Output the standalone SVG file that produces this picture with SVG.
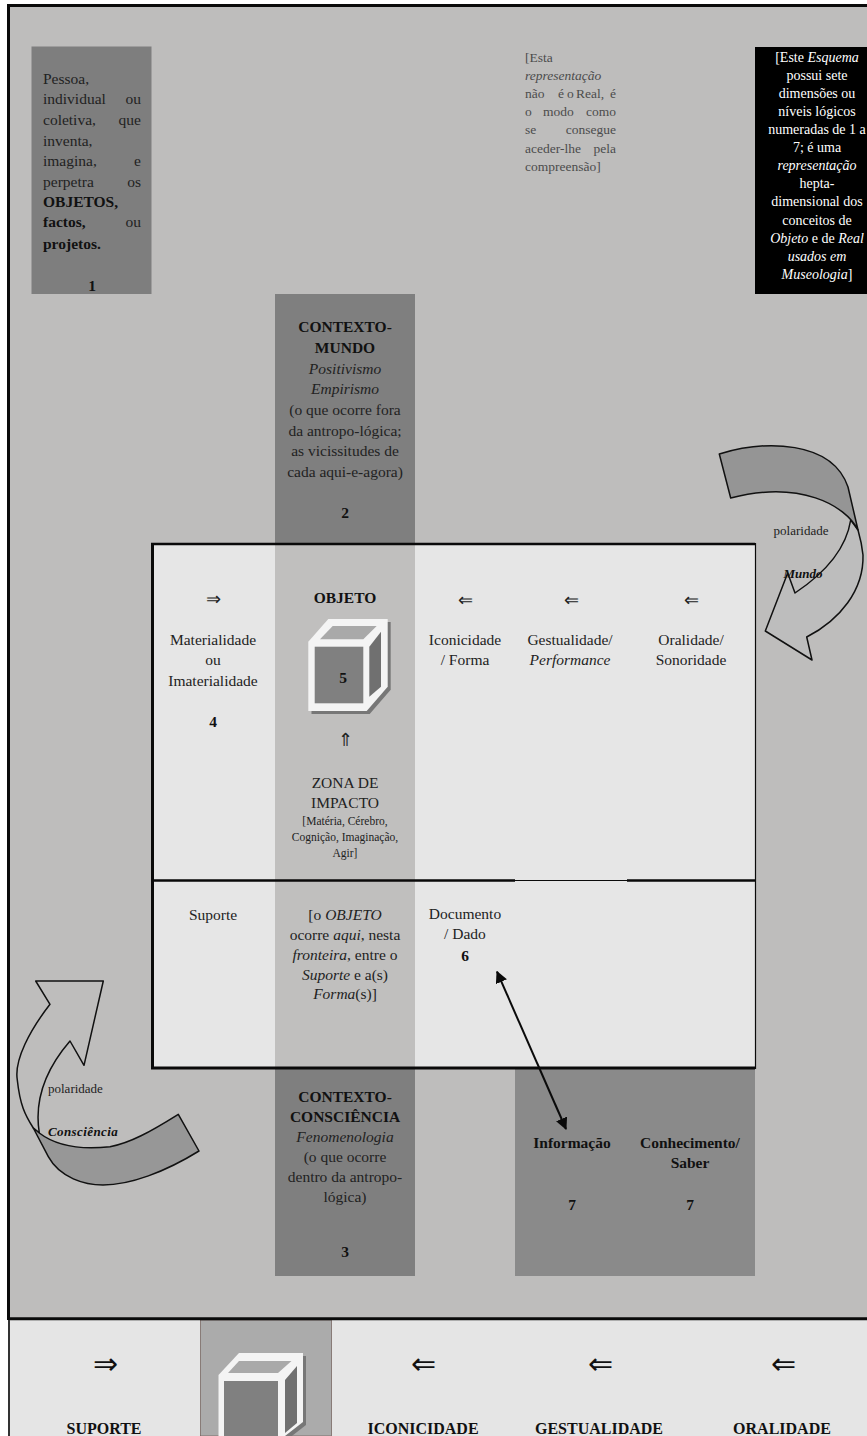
<svg xmlns="http://www.w3.org/2000/svg" width="867" height="1436" viewBox="0 0 867 1436">
<defs>
<style>
text{font-family:"Liberation Serif","Times New Roman",serif;font-size:15.5px;fill:#222}
.m{text-anchor:middle}.e{text-anchor:end}.b{font-weight:bold;fill:#111}.i{font-style:italic}
.s{font-size:11.5px}.g{font-size:13.5px;fill:#4c4c4c}.w{font-size:14px;fill:#fff;text-anchor:middle}
.a{font-size:18px;text-anchor:middle;fill:#222}
.A{font-size:30px;text-anchor:middle;fill:#111}
.c{stroke:#111;stroke-width:1.5;stroke-linejoin:round}
.l{stroke:#0a0a0a;fill:none}
</style>
<marker id="ah" viewBox="0 0 12 12" refX="11" refY="6" markerWidth="12" markerHeight="12" markerUnits="userSpaceOnUse" orient="auto-start-reverse"><path d="M0 0L12 6L0 12Z" fill="#0a0a0a"/></marker>
</defs>
<rect width="867" height="1436" fill="#fff"/>
<rect x="8" y="5" width="859" height="1315" fill="#bebdbc"/>
<path d="M8.5 1320V5.500H867" class="l" stroke-width="3"/>

<g id="n1"><rect x="31.500" y="46.500" width="120" height="247.500" fill="#7e7e7e"/>
<text x="43" y="84">Pessoa,</text>
<text x="43" y="104">individual</text><text x="141" y="104" class="e">ou</text>
<text x="43" y="125">coletiva,</text><text x="141" y="125" class="e">que</text>
<text x="43" y="146">inventa,</text>
<text x="43" y="166">imagina,</text><text x="141" y="166" class="e">e</text>
<text x="43" y="187">perpetra</text><text x="141" y="187" class="e">os</text>
<text x="43" y="207" class="b">OBJETOS,</text>
<text x="43" y="227" class="b">factos,</text><text x="141" y="227" class="e">ou</text>
<text x="43" y="249" class="b">projetos.</text>
<text x="92" y="291" class="m b">1</text></g>

<g id="n-repr">
<text x="525" y="62" class="g">[Esta</text>
<text x="525" y="80" class="g i">representação</text>
<text x="525" y="98" class="g">não</text><text x="558" y="98" class="g">é</text><text x="567" y="98" class="g">o</text><text x="576" y="98" class="g">Real,</text><text x="616" y="98" class="g e">é</text>
<text x="525" y="116" class="g">o</text><text x="543" y="116" class="g">modo</text><text x="616" y="116" class="g e">como</text>
<text x="525" y="134" class="g">se</text><text x="616" y="134" class="g e">consegue</text>
<text x="525" y="153" class="g">aceder-lhe</text><text x="616" y="153" class="g e">pela</text>
<text x="525" y="171" class="g">compreensão]</text></g>

<g id="n-black"><rect x="755" y="47" width="112" height="247" fill="#000"/>
<text x="817" y="62" class="w">[Este <tspan class="i">Esquema</tspan></text>
<text x="817" y="80" class="w">possui sete</text>
<text x="817" y="98" class="w">dimensões ou</text>
<text x="817" y="116" class="w">níveis lógicos</text>
<text x="817" y="134" class="w">numeradas de 1 a</text>
<text x="817" y="152" class="w">7; é uma</text>
<text x="817" y="170" class="w i">representação</text>
<text x="817" y="188" class="w">hepta-</text>
<text x="817" y="206" class="w">dimensional dos</text>
<text x="817" y="225" class="w">conceitos de</text>
<text x="817" y="243" class="w"><tspan class="i">Objeto</tspan> e de <tspan class="i">Real</tspan></text>
<text x="817" y="261" class="w i">usados em</text>
<text x="817" y="279" class="w"><tspan class="i">Museologia</tspan>]</text></g>

<g id="n2"><rect x="275" y="294" width="140" height="249" fill="#7f7f7f"/>
<text x="345" y="332" class="m b">CONTEXTO-</text>
<text x="345" y="353" class="m b">MUNDO</text>
<text x="345" y="374" class="m i">Positivismo</text>
<text x="345" y="394" class="m i">Empirismo</text>
<text x="345" y="415" class="m">(o que ocorre fora</text>
<text x="345" y="436" class="m">da antropo-lógica;</text>
<text x="345" y="456" class="m">as vicissitudes de</text>
<text x="345" y="477" class="m">cada aqui-e-agora)</text>
<text x="345" y="518" class="m b">2</text></g>

<g id="n3"><rect x="275" y="1069" width="140" height="207" fill="#7f7f7f"/>
<text x="345" y="1102" class="m b">CONTEXTO-</text>
<text x="345" y="1122" class="m b">CONSCIÊNCIA</text>
<text x="345" y="1142" class="m i">Fenomenologia</text>
<text x="345" y="1162" class="m">(o que ocorre</text>
<text x="345" y="1182" class="m">dentro da antropo-</text>
<text x="345" y="1202" class="m">lógica)</text>
<text x="345" y="1257" class="m b">3</text></g>

<g id="n7"><rect x="515" y="1069" width="240" height="207" fill="#8a8a8a"/>
<text x="572" y="1148" class="m b">Informação</text>
<text x="572" y="1210" class="m b">7</text>
<text x="690" y="1148" class="m b">Conhecimento/</text>
<text x="690" y="1168" class="m b">Saber</text>
<text x="690" y="1210" class="m b">7</text></g>

<g id="table">
<rect x="151" y="543" width="604" height="526" fill="#e6e6e6"/>
<rect x="275" y="545" width="140" height="522" fill="#c0bfbe"/>
<path d="M151 544H755" class="l" stroke-width="2.500"/>
<path d="M152.500 543V1069" class="l" stroke-width="3"/>
<path d="M755.500 543V1069" class="l" stroke-width="1.200"/>
<path d="M151 1068H755" class="l" stroke-width="3"/>
<path d="M151 880.500H515M627 880.500H755" class="l" stroke-width="2.500"/>
<path d="M515 880.500H627" class="l" stroke-width="1"/>
</g>

<g id="n4">
<text x="213" y="605" class="a">⇒</text>
<text x="213" y="645" class="m">Materialidade</text>
<text x="213" y="665" class="m">ou</text>
<text x="213" y="686" class="m">Imaterialidade</text>
<text x="213" y="727" class="m b">4</text>
<text x="213" y="920" class="m">Suporte</text></g>

<g id="n5">
<text x="345" y="603" class="m b">OBJETO</text>
<path d="M311.500 644.700L331.300 622H390.700V689.700L369.700 714H311.500Z" fill="#777"/>
<path d="M308.300 641.700L328.300 619H387.700V686.700L366.700 711H308.300Z" fill="#f4f4f4"/>
<rect x="314.700" y="646.700" width="48.600" height="56.600" fill="#808080"/>
<path d="M320 639.300L332.700 626H376.700L363.300 639.300Z" fill="#a9a9a9"/>
<path d="M369.300 646.700L381 631.700V686.700L369.300 696.700Z" fill="#707070"/>
<text x="343" y="683" class="m b">5</text>
<text x="345" y="746" class="a">⇑</text>
<text x="345" y="788" class="m">ZONA DE</text>
<text x="345" y="808" class="m">IMPACTO</text>
<text x="345" y="825" class="m s">[Matéria, Cérebro,</text>
<text x="345" y="841" class="m s">Cognição, Imaginação,</text>
<text x="345" y="857" class="m s">Agir]</text>
<text x="345" y="920" class="m">[o <tspan class="i">OBJETO</tspan></text>
<text x="345" y="940" class="m">ocorre <tspan class="i">aqui</tspan>, nesta</text>
<text x="345" y="960" class="m"><tspan class="i">fronteira</tspan>, entre o</text>
<text x="345" y="980" class="m"><tspan class="i">Suporte</tspan> e a(s)</text>
<text x="345" y="999" class="m"><tspan class="i">Forma</tspan>(s)]</text></g>

<g id="n6">
<text x="465" y="606" class="a">⇐</text>
<text x="465" y="645" class="m">Iconicidade</text>
<text x="465" y="665" class="m">/ Forma</text>
<text x="465" y="919" class="m">Documento</text>
<text x="465" y="939" class="m">/ Dado</text>
<text x="465" y="961" class="m b">6</text>
<text x="571" y="606" class="a">⇐</text>
<text x="570" y="645" class="m">Gestualidade/</text>
<text x="570" y="665" class="m i">Performance</text>
<text x="691" y="606" class="a">⇐</text>
<text x="691" y="645" class="m">Oralidade/</text>
<text x="691" y="665" class="m">Sonoridade</text></g>

<g id="connectors">
<path d="M497 971.700L566 1129" stroke="#0a0a0a" stroke-width="2" fill="none" marker-start="url(#ah)" marker-end="url(#ah)"/>
<path class="c" fill="#bdbdbd" d="M850.700 520C846 550 822 575 795 593L787.700 573L765.300 631L812 660L806.700 637C840 620 864 590 863 555C862 545 860 537 858 530Z"/>
<path class="c" fill="#959595" d="M719.300 454C765 440 832 440 848 487L858 530C845 505 800 480 730.700 498Z"/>
<path class="c" fill="#bebdbc" d="M39.300 1133C34 1100 45 1070 70 1041L84 1065.300L103.300 981H35.700L50 1004.300C30 1030 14 1060 17.300 1080C20 1105 25 1115 33.300 1128Z"/>
<path class="c" fill="#979797" d="M33.300 1128L48.300 1156.700C60 1178 85 1185 103 1185C130 1185 165 1172 199 1151L178.300 1114.300C150 1132 130 1143 110 1146.700C80 1150 55 1145 39.300 1133Z"/>
</g>

<g id="pol-mundo">
<text x="801" y="535" class="m" style="font-size:13px">polaridade</text>
<text x="803" y="578" class="m b i" style="font-size:13px">Mundo</text></g>
<g id="pol-consc">
<text x="48" y="1093" style="font-size:13px">polaridade</text>
<text x="48" y="1136" class="b i" style="font-size:13px;letter-spacing:.4px">Consciência</text></g>

<g id="bottom">
<rect x="9" y="1320" width="858" height="116" fill="#e5e5e5"/>
<rect x="200.500" y="1320" width="131" height="116" fill="#ababab" stroke="#6d5a55" stroke-width=".7"/>
<path d="M8 1318.800H867" stroke="#0a0a0a" stroke-width="3"/>
<path d="M9 1320V1436" stroke="#333" stroke-width="2"/>
<path d="M221.500 1378L242 1356H306V1425L288 1439H221.500Z" fill="#777"/>
<path d="M218.500 1375L239 1353H303V1422L285 1436H218.500Z" fill="#f4f4f4"/>
<rect x="224" y="1381" width="54" height="55" fill="#808080"/>
<path d="M228 1373L239 1361H291.500L278 1373Z" fill="#a9a9a9"/>
<path d="M285 1380L297 1366V1423L285 1433Z" fill="#707070"/>
<text x="105" y="1374" class="A">⇒</text>
<text x="423" y="1374" class="A">⇐</text>
<text x="600" y="1374" class="A">⇐</text>
<text x="783" y="1374" class="A">⇐</text>
<text x="104" y="1434" class="m b" style="font-size:16px">SUPORTE</text>
<text x="423" y="1434" class="m b" style="font-size:16px">ICONICIDADE</text>
<text x="599" y="1434" class="m b" style="font-size:16px">GESTUALIDADE</text>
<text x="782" y="1434" class="m b" style="font-size:16px">ORALIDADE</text>
</g>
</svg>
